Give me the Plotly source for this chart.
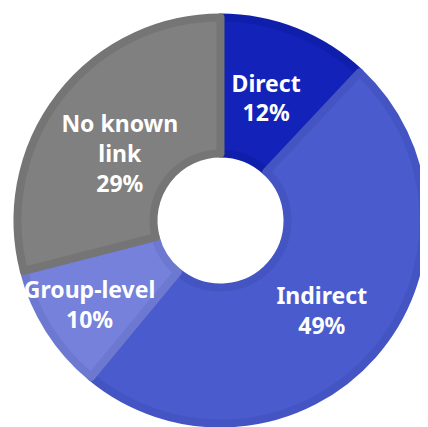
import plotly.graph_objects as go

categories = ["Direct", "Indirect", "Group-level", "No known link"]
values = [12, 49, 10, 29]
fill_colors = ["#1323b9", "#4a5ccd", "#7581da", "#808080"]
edge_colors = ["#101fab", "#4455c3", "#6d79d0", "#757575"]

NB = "\u00a0"
labels_text = [
    NB + "<br>Direct" + NB * 3 + "<br>12%" + NB * 3,
    "Indirect<br>49%",
    "Group-level<br>10%",
    NB + "<br>" + NB * 2 + "No known<br>" + NB * 2 + "link<br>" + NB * 2 + "29%",
]

fig = go.Figure(go.Pie(
    labels=categories,
    values=values,
    text=labels_text,
    textinfo="text",
    hole=0.33,
    sort=False,
    direction="clockwise",
    rotation=0,
    marker=dict(colors=fill_colors, line=dict(color=edge_colors, width=8)),
    textposition="inside",
    insidetextorientation="horizontal",
    textfont=dict(family="Noto Sans", size=23, color="white", weight="bold"),
    domain=dict(x=[9.5/420, 415.5/420], y=[3.5/419, 409.5/419]),
    showlegend=False,
))
fig.update_layout(
    width=420, height=419,
    margin=dict(l=0, r=0, t=0, b=0),
    paper_bgcolor="white",
    uniformtext=dict(minsize=23, mode="show"),
)
fig.write_html("out.html")
